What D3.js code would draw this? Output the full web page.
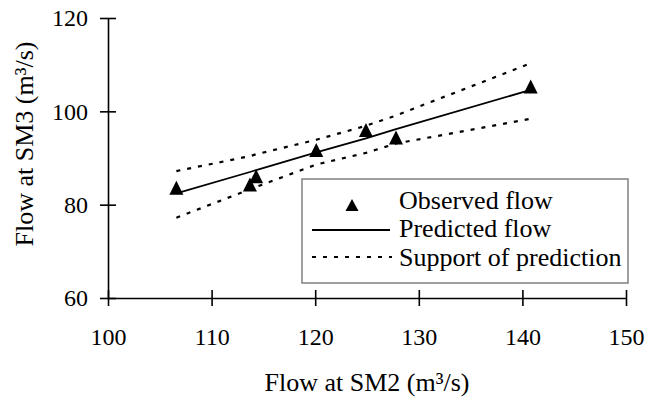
<!DOCTYPE html>
<html>
<head>
<meta charset="utf-8">
<script src="https://cdn.jsdelivr.net/npm/d3@7"></script>
<style>
  html, body { margin: 0; padding: 0; background: #fff; }
  svg { display: block; }
  text { font-family: "Liberation Serif", "Times New Roman", serif; fill: #000; }
</style>
</head>
<body>
<svg id="chart" width="645" height="397"></svg>
<script>
// ---- Data ----
const flowSM2 = [106.6, 113.7, 114.3, 120.1, 124.9, 127.8, 140.8];
const observedFlow = [83.6, 84.3, 86.1, 91.7, 96.0, 94.4, 105.3];
const predictedFlow = [82.4, 87.0, 87.4, 91.2, 94.2, 96.2, 104.6];
const supportUpper = [87.2, 90.4, 90.8, 93.9, 96.9, 99.1, 110.3];
const supportLower = [77.2, 83.3, 83.8, 88.6, 91.1, 93.1, 98.4];
const xTicks = [100, 110, 120, 130, 140, 150];
const yTicks = [60, 80, 100, 120];
const legendLabels = ["Observed flow", "Predicted flow", "Support of prediction"];
const xTitle = "Flow at SM2 (m\u00B3/s)";
const yTitle = "Flow at SM3 (m\u00B3/s)";

// ---- Layout ----
const svg = d3.select("#chart");
const plotL = 108, plotR = 626, plotT = 18, plotB = 298;
const x = d3.scaleLinear().domain([100, 150]).range([plotL, plotR]);
const y = d3.scaleLinear().domain([60, 120]).range([plotB, plotT]);
const tickFont = 24, titleFont = 26, legendFont = 26;

// axes
const xAxis = svg.append("g").attr("transform", `translate(0,${plotB})`)
  .call(d3.axisBottom(x).tickValues(xTicks).tickSizeInner(8).tickSizeOuter(0).tickPadding(22).tickFormat(d3.format("d")));
xAxis.selectAll(".tick line").attr("y1", -8).attr("y2", 8);
const yAxis = svg.append("g").attr("transform", `translate(${plotL},0)`)
  .call(d3.axisLeft(y).tickValues(yTicks).tickSizeInner(8).tickSizeOuter(0).tickPadding(12).tickFormat(d3.format("d")));
yAxis.selectAll(".tick line").attr("x1", 8).attr("x2", -8);
svg.selectAll(".domain, .tick line").attr("stroke", "#000").attr("stroke-width", 1.6);
svg.selectAll(".tick text").style("font-family", '"Liberation Serif", serif').style("font-size", tickFont + "px").attr("fill", "#000");

// axis titles
svg.append("text").attr("x", (plotL + plotR) / 2).attr("y", 391)
  .attr("text-anchor", "middle").style("font-size", titleFont + "px").text(xTitle);
svg.append("text").attr("transform", `translate(33,${(plotT + plotB) / 2 - 14}) rotate(-90)`)
  .attr("text-anchor", "middle").style("font-size", titleFont + "px").text(yTitle);

// lines
const pts = (ys) => flowSM2.map((v, i) => [v, ys[i]]);
const line = d3.line().x(d => x(d[0])).y(d => y(d[1]));
const dash = "4,7";
svg.append("path").attr("d", line(pts(supportUpper))).attr("fill", "none")
  .attr("stroke", "#000").attr("stroke-width", 2.2).attr("stroke-dasharray", dash);
svg.append("path").attr("d", line(pts(supportLower))).attr("fill", "none")
  .attr("stroke", "#000").attr("stroke-width", 2.2).attr("stroke-dasharray", dash);
svg.append("path").attr("d", line(pts(predictedFlow))).attr("fill", "none")
  .attr("stroke", "#000").attr("stroke-width", 1.8);

// triangle markers
const tri = (cx, cy, w, h) => `M${cx},${cy - h / 2}L${cx + w / 2},${cy + h / 2}L${cx - w / 2},${cy + h / 2}Z`;
svg.append("g").selectAll("path").data(pts(observedFlow)).join("path")
  .attr("d", d => tri(x(d[0]), y(d[1]), 14, 14)).attr("fill", "#000");

// legend
const lg = svg.append("g");
lg.append("rect").attr("x", 302).attr("y", 179).attr("width", 326).attr("height", 104)
  .attr("fill", "#fff").attr("stroke", "#808080").attr("stroke-width", 1.5);
const rowY = [200, 228, 257];
lg.append("path").attr("d", tri(352, rowY[0] + 5, 13, 12)).attr("fill", "#000");
lg.append("line").attr("x1", 312).attr("x2", 390).attr("y1", rowY[1] + 2).attr("y2", rowY[1] + 2)
  .attr("stroke", "#000").attr("stroke-width", 1.8);
lg.append("line").attr("x1", 312).attr("x2", 392).attr("y1", rowY[2]).attr("y2", rowY[2])
  .attr("stroke", "#000").attr("stroke-width", 2.2).attr("stroke-dasharray", dash);
lg.selectAll("text.lab").data(legendLabels).join("text").attr("class", "lab")
  .attr("x", 399).attr("y", (d, i) => rowY[i]).attr("dy", "0.35em")
  .style("font-size", legendFont + "px").text(d => d);
</script>
</body>
</html>
